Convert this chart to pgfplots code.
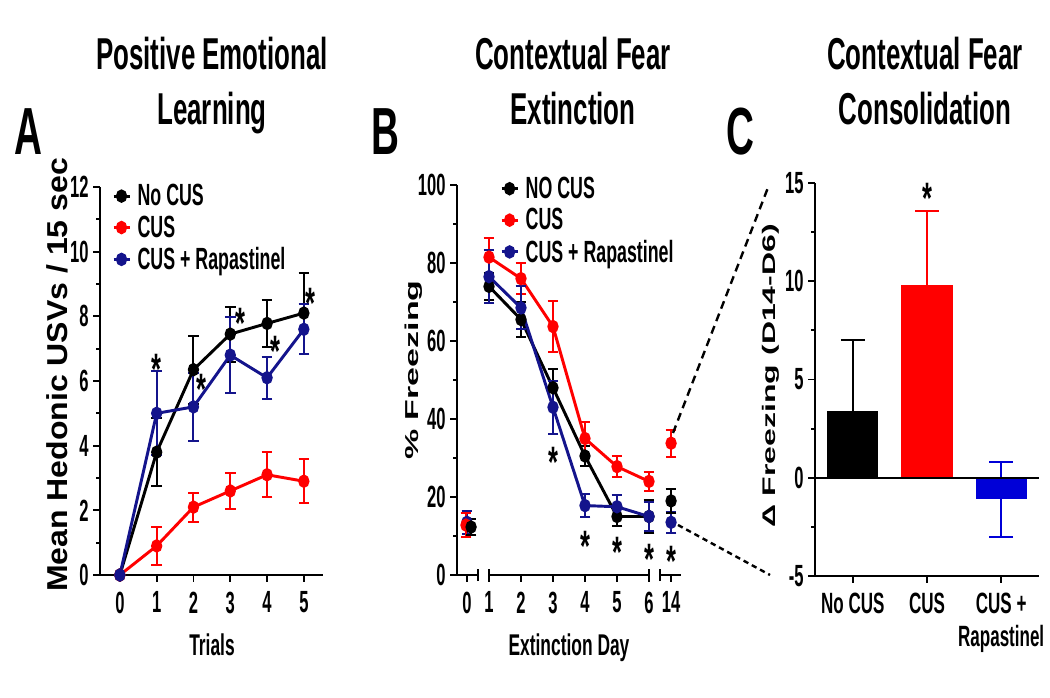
\documentclass[border=0pt]{standalone}
\usepackage{pgfplots}
\pgfplotsset{compat=1.18}
\usepackage{fontspec}
\usepackage{graphicx}
\setmainfont{Liberation Sans}
\newfontfamily\cond{Liberation Sans}[FakeStretch=0.58]
\newfontfamily\condt{Liberation Sans}[FakeStretch=0.54]

\definecolor{navy}{RGB}{20,20,140}
\definecolor{cred}{RGB}{255,0,0}
\definecolor{cblue}{RGB}{0,0,215}

\pgfplotsset{
  gp/.style={
    scale only axis, anchor=south west, clip=false,
    axis x line*=bottom, axis y line*=left,
    axis line style={line width=1.6pt},
    tick align=outside,
    major tick length=5pt, minor tick length=3pt,
    every tick/.style={line width=1.4pt, black},
    tick label style={font=\condt\bfseries\fontsize{23}{23}\selectfont},
    xticklabel style={yshift=-4pt},
    /pgf/number format/assume math mode=true,
    legend style={draw=none, fill=none, anchor=north west, inner sep=0pt, row sep=2pt,
      font=\cond\bfseries\fontsize{23}{25}\selectfont},
    legend cell align=left,
    legend image code/.code={\draw[mark repeat=2, mark phase=2, #1]
      plot coordinates {(0pt,0pt) (6pt,0pt) (12pt,0pt)}; \path (15pt,0pt);},
  },
  ser/.style={#1, line width=2.2pt, mark=*, mark size=3.9pt,
    mark options={solid, xscale=0.8},
    error bars/y dir=both, error bars/y explicit,
    error bars/error bar style={line width=1.5pt},
    error bars/error mark options={rotate=90, mark size=4pt, line width=1.5pt}},
}
\tikzset{
  sig/.style={font=\cond\bfseries\fontsize{33}{33}\selectfont, anchor=base,
    yshift=-18.5pt, inner sep=0pt},
}

\begin{document}
\begin{tikzpicture}
\useasboundingbox (0,0) rectangle (787.5pt,522.75pt);

% A: positive emotional learning
\begin{axis}[gp, at={(75pt,91.5pt)}, width=167.25pt, height=291pt,
  xmin=-0.54, xmax=5.52, ymin=0, ymax=12,
  xtick={0,...,5}, ytick={0,2,...,12}, minor ytick={1,3,...,11},
  legend style={at={(axis cs:-0.22,12.17)}}]
\addplot[ser=black] table[x=x, y=y, y error=e] {
x y e
0 0 0
1 3.8 1.05
2 6.35 1.05
3 7.45 0.85
4 7.78 0.73
5 8.1 1.25
};
\addplot[ser=cred] table[x=x, y=y, y error=e] {
x y e
0 0 0
1 0.9 0.6
2 2.1 0.45
3 2.6 0.57
4 3.1 0.7
5 2.9 0.68
};
\addplot[ser=navy] table[x=x, y=y, y error=e] {
x y e
0 0 0
1 5.0 1.3
2 5.2 1.05
3 6.8 1.17
4 6.1 0.65
5 7.6 0.77
};
\legend{No CUS, CUS, CUS + Rapastinel}
\node[sig] at (axis cs:1,6.65) {*};
\node[sig] at (axis cs:2.23,6.04) {*};
\node[sig] at (axis cs:3.28,8.08) {*};
\node[sig] at (axis cs:4.24,7.2) {*};
\node[sig] at (axis cs:5.19,8.7) {*};
\end{axis}

% B: contextual fear extinction
\begin{axis}[gp, at={(342.75pt,91.5pt)}, width=168pt, height=292.5pt,
  xmin=0, xmax=7, ymin=0, ymax=100,
  x axis line style={draw=none},
  xtick={0.31,1,2,3,4,5,6,6.69}, xticklabels={0,1,2,3,4,5,6,14},
  ytick={0,20,...,100}, minor ytick={10,30,...,90},
  legend style={at={(axis cs:1.34,102.8)}}]
\addplot[ser=black] table[x=x, y=y, y error=e] {
x y e
1 74 3.5
2 65.5 4.6
3 48 4.8
4 30.5 2.5
5 15 2.4
6 15 4.2
};
\addplot[ser=cred] table[x=x, y=y, y error=e] {
x y e
1 81.5 5
2 76 4
3 63.7 6.6
4 35 4.3
5 27.8 2.7
6 24 2.5
};
\addplot[ser=navy] table[x=x, y=y, y error=e] {
x y e
1 76.5 6.8
2 68.5 5.5
3 43 6.8
4 17.8 3
5 17.5 3
6 15 3.8
};
\legend{NO CUS, CUS, CUS + Rapastinel}
\addplot[ser=navy, only marks, forget plot] table[x=x, y=y, y error=e] {
x y e
0.31 13.5 3
6.69 13.5 2.7
};
\addplot[ser=cred, only marks, forget plot] table[x=x, y=y, y error=e] {
x y e
0.28 12.8 3
6.69 33.8 3.5
};
\addplot[ser=black, only marks, forget plot] table[x=x, y=y, y error=e] {
x y e
0.44 12.3 2
6.69 19 3
};
\draw[line width=1.6pt] (axis cs:0,0) -- (axis cs:0.66,0);
\draw[line width=1.6pt] (axis cs:1,0) -- (axis cs:6,0);
\draw[line width=1.6pt] (axis cs:6.34,0) -- (axis cs:7,0);
\draw[line width=1.4pt] ([yshift=-4.5pt]axis cs:0.66,0) -- ([yshift=4.5pt]axis cs:0.66,0);
\draw[line width=1.4pt] ([yshift=-4.5pt]axis cs:1,0) -- ([yshift=4.5pt]axis cs:1,0);
\draw[line width=1.4pt] ([yshift=-4.5pt]axis cs:6,0) -- ([yshift=4.5pt]axis cs:6,0);
\draw[line width=1.4pt] ([yshift=-4.5pt]axis cs:6.34,0) -- ([yshift=4.5pt]axis cs:6.34,0);
\node[sig] at (axis cs:3,31.3) {*};
\node[sig] at (axis cs:4,9.8) {*};
\node[sig] at (axis cs:5,8.2) {*};
\node[sig] at (axis cs:6,6.4) {*};
\node[sig] at (axis cs:6.69,5.9) {*};
\end{axis}

% C: contextual fear consolidation
\begin{axis}[gp, at={(611.25pt,90.75pt)}, width=168pt, height=294.75pt,
  xmin=-0.51, xmax=2.51, ymin=-5, ymax=15,
  xtick={0,1,2}, xticklabels={No CUS, CUS, {CUS +\\Rapastinel}},
  xticklabel style={align=center, font=\cond\bfseries\fontsize{22}{25}\selectfont},
  ytick={-5,0,5,10,15}, minor ytick={-2.5,2.5,7.5,12.5}]
\addplot[ybar, bar width=0.69, bar shift=0pt, fill=black, draw=none,
  error bars/.cd, y dir=plus, y explicit,
  error bar style={line width=1.5pt, draw=black},
  error mark options={rotate=90, mark size=9pt, line width=1.5pt, draw=black}]
  coordinates {(0,3.4) +- (0,3.6)};
\addplot[ybar, bar width=0.69, bar shift=0pt, fill=cred, draw=none,
  error bars/.cd, y dir=plus, y explicit,
  error bar style={line width=1.5pt, draw=cred},
  error mark options={rotate=90, mark size=9pt, line width=1.5pt, draw=cred}]
  coordinates {(1,9.8) +- (0,3.8)};
\addplot[ybar, bar width=0.69, bar shift=0pt, fill=cblue, draw=none,
  error bars/.cd, y dir=both, y explicit,
  error bar style={line width=1.5pt, draw=cblue},
  error mark options={rotate=90, mark size=9pt, line width=1.5pt, draw=cblue}]
  coordinates {(2,-1.1) +- (0,1.9)};
\draw[line width=1.6pt] (axis cs:-0.51,0) -- (axis cs:2.51,0);
\node[sig] at (axis cs:1,14.7) {*};
\end{axis}

% titles, panel letters, axis labels, zoom lines (pixel frame)
\begin{scope}[x=0.75pt, y=-0.75pt, yshift=522.75pt,
  ttl/.style={font=\cond\bfseries\fontsize{33.5}{36}\selectfont, inner sep=0pt, anchor=base},
  lbl/.style={font=\cond\bfseries\fontsize{22.5}{24}\selectfont, inner sep=0pt, anchor=base},
  let/.style={font=\cond\bfseries\fontsize{50}{50}\selectfont, inner sep=0pt, anchor=base}]
\node[ttl] at (212,70) {Positive Emotional};
\node[ttl] at (212,125) {Learning};
\node[ttl] at (573,70) {Contextual Fear};
\node[ttl] at (573,125) {Extinction};
\node[ttl] at (925,70) {Contextual Fear};
\node[ttl] at (925,125) {Consolidation};
\node[let] at (28,155) {A};
\node[let] at (385,155) {B};
\node[let] at (740,155) {C};
\node[lbl] at (212,655) {Trials};
\node[lbl] at (569,655) {Extinction Day};
\node[rotate=90, inner sep=0pt] at (57,375)
  {\scalebox{1}[0.9]{\bfseries\fontsize{24}{24}\selectfont Mean Hedonic USVs / 15 sec}};
\node[rotate=90, inner sep=0pt] at (414,370)
  {\scalebox{1}[0.55]{\bfseries\fontsize{25.5}{26}\selectfont \% Freezing}};
\node[rotate=90, inner sep=0pt] at (771,376)
  {\scalebox{1}[0.57]{\bfseries\fontsize{24}{24}\selectfont Δ Freezing (D14-D6)}};
\draw[line width=1.8pt, dash pattern=on 6pt off 4pt] (673,433) -- (769,185);
\draw[line width=1.8pt, dash pattern=on 4pt off 3pt] (678,525) -- (770,575);
\end{scope}
\end{tikzpicture}
\end{document}
